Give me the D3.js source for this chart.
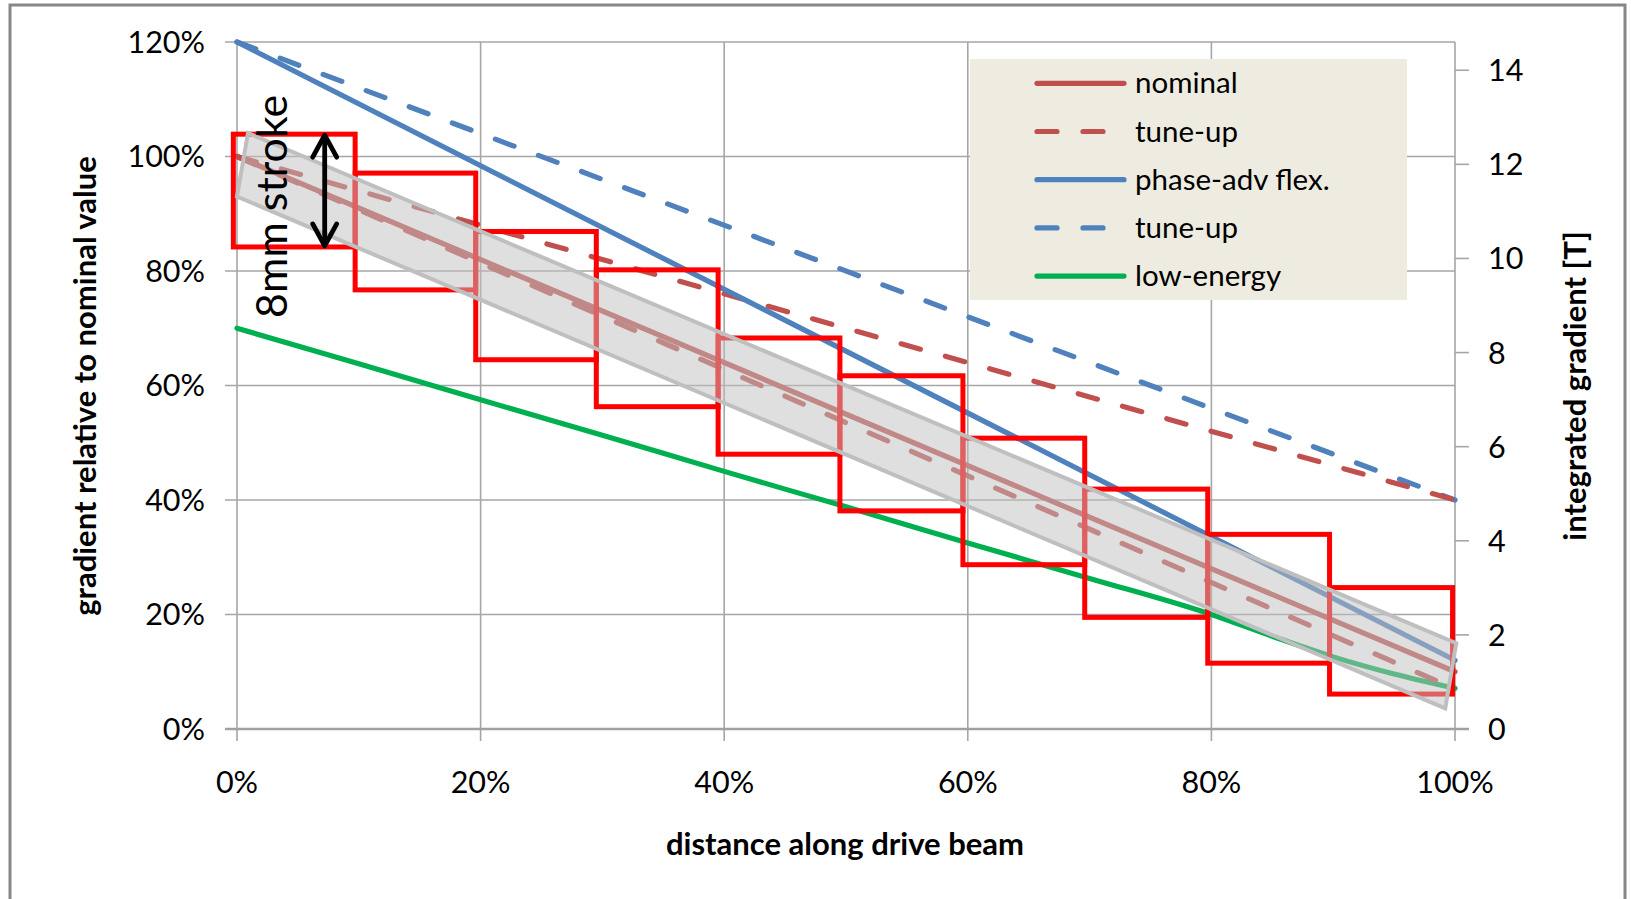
<!DOCTYPE html>
<html>
<head>
<meta charset="utf-8">
<script src="https://cdn.jsdelivr.net/npm/d3@7"></script>
<style>
  body { margin: 0; background: #fff; }
  text { font-family: Lato, "Open Sans", sans-serif; fill: #000; }
</style>
</head>
<body>
<div id="chart"></div>
<script>
// values
var xTicks = [0, 20, 40, 60, 80, 100];
var yTicks = [0, 20, 40, 60, 80, 100, 120];
var yRightTicks = [0, 2, 4, 6, 8, 10, 12, 14];

var lineX = [0, 100];
var nominal = [100, 10];
var tuneUpRed = [100, 40];
var tuneUpRedLow = [100, 7];
var phaseAdv = [120, 12];
var tuneUpBlue = [120, 40];
var lowEnergyX = [0, 10, 20, 30, 40, 50, 60, 70, 80, 85, 90, 95, 100];
var lowEnergy = [70, 63.8, 57.5, 51.3, 45, 38.8, 32.5, 26.3, 20, 16.2, 12.6, 9.6, 7.1];

// red magnet blocks
var boxEdges = [-0.3, 9.7, 19.6, 29.5, 39.5, 49.5, 59.6, 69.6, 79.7, 89.7, 99.8];
var boxTop = [103.9, 97.1, 86.9, 80.2, 68.3, 61.7, 50.8, 41.9, 34.0, 24.7];
var boxBottom = [84.2, 76.7, 64.5, 56.3, 48.0, 38.1, 28.7, 19.5, 11.5, 6.1];

// grey stroke band (corners, clockwise)
var bandX = [0.9, 100.1, 99.2, 0.0];
var bandY = [104.1, 15.0, 3.6, 93.0];

var arrowAt = 7.2;
var labelAt = [4.1, 91.3];

var legendNames = ['nominal', 'tune-up', 'phase-adv flex.', 'tune-up', 'low-energy'];

var red = '#C0504D', blue = '#4F81BD', green = '#00B050';
var dash = '20,26';
var lw = 5.2;

var W = 1631, H = 899;
var svg = d3.select('#chart').append('svg')
    .attr('width', W).attr('height', H);

var x = d3.scaleLinear().domain([0, 100]).range([237, 1455]);
var y = d3.scaleLinear().domain([0, 120]).range([729, 42]);
var yR = d3.scaleLinear().domain([0, 14.6]).range([729, 42]);

// outer frame
svg.append('rect').attr('x', 10).attr('y', 5).attr('width', 1615).attr('height', 1000)
    .attr('fill', 'none').attr('stroke', '#878787').attr('stroke-width', 3);

// grid
var grid = svg.append('g').attr('stroke', '#a6a6a6').attr('stroke-width', 1.6);
grid.selectAll('.h').data(yTicks.slice(1)).enter().append('line')
    .attr('x1', x(0) - 12).attr('x2', x(100))
    .attr('y1', function(d) { return y(d); }).attr('y2', function(d) { return y(d); });
grid.selectAll('.v').data(xTicks).enter().append('line')
    .attr('x1', function(d) { return x(d); }).attr('x2', function(d) { return x(d); })
    .attr('y1', y(120)).attr('y2', y(0) + 12);
// right axis ticks
grid.selectAll('.r').data(yRightTicks).enter().append('line')
    .attr('x1', x(100)).attr('x2', x(100) + 14)
    .attr('y1', function(d) { return yR(d); }).attr('y2', function(d) { return yR(d); });
// x axis line
svg.append('line').attr('x1', x(0) - 12).attr('x2', x(100) + 14)
    .attr('y1', y(0)).attr('y2', y(0))
    .attr('stroke', '#a0a0a0').attr('stroke-width', 2.6);

// tick labels
svg.selectAll('.yl').data(yTicks).enter().append('text')
    .attr('x', x(0) - 32).attr('y', function(d) { return y(d); }).attr('dy', '0.36em')
    .attr('text-anchor', 'end').style('font-size', '30.5px')
    .text(function(d) { return d + '%'; });
svg.selectAll('.xl').data(xTicks).enter().append('text')
    .attr('x', function(d) { return x(d); }).attr('y', y(0) + 53).attr('dy', '0.36em')
    .attr('text-anchor', 'middle').style('font-size', '30.5px')
    .text(function(d) { return d + '%'; });
svg.selectAll('.rl').data(yRightTicks).enter().append('text')
    .attr('x', x(100) + 33).attr('y', function(d) { return yR(d); }).attr('dy', '0.36em')
    .style('font-size', '30.5px')
    .text(function(d) { return d; });

// axis titles
svg.append('text').attr('transform', 'translate(96,386) rotate(-90)')
    .attr('text-anchor', 'middle').style('font-size', '31px').style('font-weight', 'bold')
    .text('gradient relative to nominal value');
svg.append('text').attr('transform', 'translate(1586,386) rotate(-90)')
    .attr('text-anchor', 'middle').style('font-size', '31px').style('font-weight', 'bold')
    .text('integrated gradient [T]');
svg.append('text').attr('x', 845).attr('y', 855)
    .attr('text-anchor', 'middle').style('font-size', '31px').style('font-weight', 'bold')
    .text('distance along drive beam');

// series
var line = d3.line().x(function(d) { return x(d[0]); }).y(function(d) { return y(d[1]); });
var series = [
    {v: d3.zip(lineX, tuneUpBlue), c: blue, dash: dash},
    {v: d3.zip(lineX, tuneUpRed), c: red, dash: dash},
    {v: d3.zip(lineX, phaseAdv), c: blue},
    {v: d3.zip(lowEnergyX, lowEnergy), c: green, curve: true},
    {v: d3.zip(lineX, tuneUpRedLow), c: red, dash: dash},
    {v: d3.zip(lineX, nominal), c: red}
];
series.forEach(function(s) {
    svg.append('path')
        .attr('d', s.curve ? line.curve(d3.curveMonotoneX)(s.v) : line.curve(d3.curveLinear)(s.v))
        .attr('fill', 'none').attr('stroke', s.c).attr('stroke-width', lw)
        .attr('stroke-linecap', 'round')
        .attr('stroke-dasharray', s.dash || null);
});

// red blocks
svg.selectAll('.box').data(boxTop).enter().append('rect')
    .attr('x', function(d, i) { return x(boxEdges[i]); })
    .attr('width', function(d, i) { return x(boxEdges[i + 1]) - x(boxEdges[i]); })
    .attr('y', function(d) { return y(d); })
    .attr('height', function(d, i) { return y(boxBottom[i]) - y(d); })
    .attr('fill', 'none').attr('stroke', '#FF0000').attr('stroke-width', 5);

// grey band
svg.append('polygon')
    .attr('points', bandX.map(function(d, i) { return x(d) + ',' + y(bandY[i]); }).join(' '))
    .attr('fill', 'rgba(191,191,191,0.5)').attr('stroke', '#bfbfbf').attr('stroke-width', 4)
    .attr('stroke-linejoin', 'miter');

// legend
var lg = svg.append('g');
lg.append('rect').attr('x', 970).attr('y', 59).attr('width', 437).attr('height', 241)
    .attr('fill', '#EEECE1');
var lgColors = [red, red, blue, blue, green];
var lgDash = [null, dash, null, dash, null];
legendNames.forEach(function(name, i) {
    var ly = 83.3 + i * 48.2;
    lg.append('line').attr('x1', 1037).attr('x2', 1124).attr('y1', ly).attr('y2', ly)
        .attr('stroke', lgColors[i]).attr('stroke-width', lw).attr('stroke-linecap', 'round')
        .attr('stroke-dasharray', lgDash[i]);
    lg.append('text').attr('x', 1135).attr('y', ly).attr('dy', '0.34em')
        .style('font-size', '29.5px').text(name);
});

// stroke arrow
var ax = x(arrowAt), aTop = y(boxTop[0]), aBot = y(boxBottom[0]);
var ann = svg.append('g').attr('stroke', '#000').attr('stroke-width', 4.8)
    .attr('fill', 'none').attr('stroke-linecap', 'round').attr('stroke-linejoin', 'round');
ann.append('line').attr('x1', ax).attr('x2', ax).attr('y1', aTop + 2).attr('y2', aBot - 2);
ann.append('path').attr('d', 'M' + (ax - 12) + ',' + (aTop + 23) + 'L' + ax + ',' + (aTop + 1) + 'L' + (ax + 12) + ',' + (aTop + 23));
ann.append('path').attr('d', 'M' + (ax - 12) + ',' + (aBot - 23) + 'L' + ax + ',' + (aBot - 1) + 'L' + (ax + 12) + ',' + (aBot - 23));

svg.append('text')
    .attr('transform', 'translate(' + x(labelAt[0]) + ',' + y(labelAt[1]) + ') rotate(-90)')
    .attr('text-anchor', 'middle').style('font-size', '43px')
    .text('8mm stroke');
</script>
</body>
</html>
